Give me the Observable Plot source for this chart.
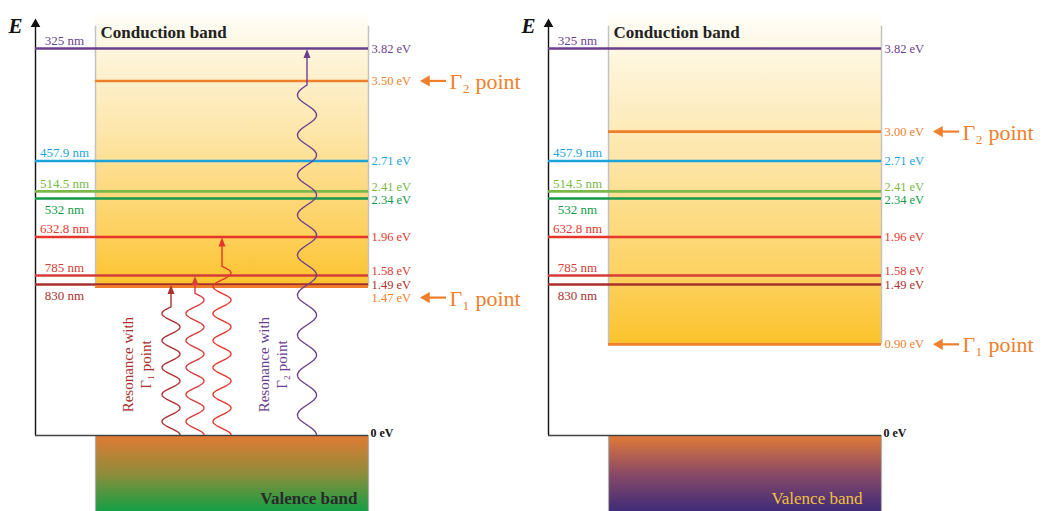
<!DOCTYPE html>
<html><head><meta charset="utf-8">
<script src="https://cdn.jsdelivr.net/npm/d3@7"></script>
<script src="https://cdn.jsdelivr.net/npm/@observablehq/plot@0.6"></script>
<style>body{margin:0;background:#fff}#chart{width:1046px;height:511px}</style>
</head><body><div id="chart"></div>
<script>
// ---------- data ----------
const laserLabels   = ["325 nm", "457.9 nm", "514.5 nm", "532 nm", "632.8 nm", "785 nm", "830 nm"];
const laserEnergies = [3.82, 2.71, 2.41, 2.34, 1.96, 1.58, 1.49];
const energyLabels  = ["3.82 eV", "2.71 eV", "2.41 eV", "2.34 eV", "1.96 eV", "1.58 eV", "1.49 eV"];
const laserColors   = ["#6b3f8e", "#1ca5dc", "#7ab84a", "#15994a", "#e6362b", "#d63c39", "#a9302d"];
const panels        = ["left", "right"];
const gamma2Energies = [3.50, 3.00];
const gamma2Labels   = ["3.50 eV", "3.00 eV"];
const gamma1Energies = [1.47, 0.90];
const gamma1Labels   = ["1.47 eV", "0.90 eV"];
const gammaNames     = ["Γ₁ point", "Γ₂ point"];
const gammaColor     = "#f07f2c";
const resonanceLasers = ["830 nm", "785 nm", "632.8 nm", "325 nm"]; // left panel only
const resonanceTexts  = ["Resonance with\nΓ₁ point", "Resonance with\nΓ₂ point"];
const resonanceTextColors = ["#a9302d", "#6b3f8e"];
const valenceStops  = [["#e27a33", "#8f8c3a", "#10a045"], ["#e27a36", "#8a4a66", "#3d2a78"]];
const valenceTextColors = ["#2a2a2a", "#f0c040"];
const valenceWeights = ["bold", "normal"];

// ---------- layout (pixels inside each panel) ----------
const W = 1046, H = 511;
const OFF = [0, 513];
const X = {axis: 35, boxL: 95, boxR: 368, nm: 64, eV: 371, tip: 421, tail: 446, gText: 449, E: 8, cb: 100,
           vbEnd: [357, 349], waves: [171, 195, 222, 307], wavePeriod: [27, 27, 27, 40], waveAmp: [9, 9, 9, 9.5],
           resText: [136, 272]};
const E_CB_TOP = 4.16, E_AXIS_TOP = 4.1, E_VB_BOTTOM = -0.76;
const nmDy = {"532 nm": 11, "830 nm": 11};
const evDy = {"2.41 eV": -4, "2.34 eV": 2, "1.58 eV": -4, "1.49 eV": 0};
const gammaDy = [[0, 11], [0, 0]]; // [panel][Γ2, Γ1]
const FONT = "Liberation Serif, DejaVu Serif, serif";
const LABEL_SIZE = 12.5;

// ---------- derived tables ----------
const laserRows = panels.flatMap((p, pi) => laserLabels.map((lab, i) => ({pi, lab, ev: energyLabels[i], e: laserEnergies[i], c: laserColors[i]})));
const gammaRows = panels.flatMap((p, pi) => [
  {pi, k: 0, e: gamma2Energies[pi], lab: gamma2Labels[pi], name: gammaNames[1]},
  {pi, k: 1, e: gamma1Energies[pi], lab: gamma1Labels[pi], name: gammaNames[0]}
]);
const waveRows = resonanceLasers.map((lab, i) => {
  const j = laserLabels.indexOf(lab);
  return {x: OFF[0] + X.waves[i], e: laserEnergies[j], c: laserColors[j], P: X.wavePeriod[i], A: X.waveAmp[i]};
});

const defsMark = () => {
  const defs = d3.create("svg:defs");
  const cb = defs.append("linearGradient").attr("id", "cbGrad").attr("x1", 0).attr("y1", 0).attr("x2", 0).attr("y2", 1);
  [[0, "#fffefa"], [0.12, "#fef6e0"], [0.45, "#fde5a6"], [0.78, "#fdd263"], [1, "#fcc32c"]]
    .forEach(([o, c]) => cb.append("stop").attr("offset", o).attr("stop-color", c));
  valenceStops.forEach((st, pi) => {
    const g = defs.append("linearGradient").attr("id", "vbGrad" + pi).attr("x1", 0).attr("y1", 0).attr("x2", 0).attr("y2", 1);
    st.forEach((c, i) => g.append("stop").attr("offset", i / (st.length - 1)).attr("stop-color", c));
  });
  return defs.node();
};

const wavyArrows = (index, {x, y}) => {
  const g = d3.create("svg:g").attr("fill", "none");
  for (const r of waveRows) {
    const cx = x(r.x), y0 = y(0), yt = y(r.e);
    const P = r.P, A = r.A, minStraight = 18;
    const L = y0 - yt - minStraight;
    const k = Math.floor((L / (P / 4) - 1) / 2);
    const Lw = (2 * k + 1) * P / 4;
    const pts = [];
    for (let t = 0; t <= Lw; t += 0.5) pts.push([cx + A * Math.cos(2 * Math.PI * t / P), y0 - t]);
    pts.push([cx, y0 - Lw], [cx, yt + 7]);
    g.append("path").attr("d", d3.line()(pts)).attr("stroke", r.c).attr("stroke-width", 1.4);
    g.append("path").attr("d", `M${cx},${yt + 1}L${cx - 3.5},${yt + 10}L${cx + 3.5},${yt + 10}Z`).attr("fill", r.c);
  }
  return g.node();
};

const marks = [defsMark];
panels.forEach((p, pi) => {
  const o = OFF[pi];
  // bands
  marks.push(Plot.rect([p], {x1: o + X.boxL, x2: o + X.boxR, y1: gamma1Energies[pi], y2: E_CB_TOP, fill: "url(#cbGrad)"}));
  marks.push(Plot.rect([p], {x1: o + X.boxL, x2: o + X.boxR, y1: E_VB_BOTTOM, y2: 0, fill: `url(#vbGrad${pi})`}));
  marks.push(Plot.ruleX([o + X.boxL, o + X.boxR], {y1: gamma1Energies[pi], y2: E_CB_TOP - 0.12, stroke: "#c2c2c2", strokeWidth: 1.5}));
  marks.push(Plot.ruleX([o + X.boxL, o + X.boxR], {y1: E_VB_BOTTOM, y2: 0, stroke: "#b0b0b0", strokeWidth: 1.2}));
  // axes
  marks.push(Plot.ruleX([o + X.axis], {y1: 0, y2: E_AXIS_TOP - 0.06, stroke: "#111", strokeWidth: 1.4}));
  marks.push(Plot.dot([p], {x: o + X.axis, y: E_AXIS_TOP, symbol: "triangle", r: 3.6, fill: "#111", dy: 4}));
  marks.push(Plot.ruleY([0], {x1: o + X.axis, x2: o + X.boxR, stroke: "#444", strokeWidth: 1.6}));
  marks.push(Plot.text([p], {x: o + X.E, y: 4.04, text: () => "E", textAnchor: "start", fontFamily: FONT, fontSize: 21, fontWeight: "bold", fontStyle: "italic", fill: "#111"}));
  marks.push(Plot.text([p], {x: o + X.boxR + 2, y: 0, text: () => "0 eV", textAnchor: "start", fontFamily: FONT, fontSize: 12, fontWeight: "bold", fill: "#111", dy: -2}));
  marks.push(Plot.text([p], {x: o + X.cb, y: 3.98, text: () => "Conduction band", textAnchor: "start", fontFamily: FONT, fontSize: 17, fontWeight: "bold", fill: "#222"}));
  marks.push(Plot.text([p], {x: o + X.vbEnd[pi], y: -0.62, text: () => "Valence band", textAnchor: "end", fontFamily: FONT, fontSize: 17, fontWeight: valenceWeights[pi], fill: valenceTextColors[pi]}));
});

// laser lines and labels
marks.push(Plot.ruleY(laserRows, {y: "e", x1: d => OFF[d.pi] + X.axis, x2: d => OFF[d.pi] + X.boxR, stroke: "c", strokeWidth: 2.6}));
laserRows.forEach(d => {
  marks.push(Plot.text([d], {x: OFF[d.pi] + X.nm, y: "e", text: "lab", fill: "c", fontFamily: FONT, fontSize: 13, textAnchor: "middle", dy: nmDy[d.lab] ?? -8}));
  marks.push(Plot.text([d], {x: OFF[d.pi] + X.eV, y: "e", text: "ev", fill: "c", fontFamily: FONT, fontSize: LABEL_SIZE, textAnchor: "start", dy: evDy[d.ev] ?? 0}));
});

// Γ points
marks.push(Plot.ruleY(gammaRows, {y: "e", x1: d => OFF[d.pi] + X.boxL, x2: d => OFF[d.pi] + X.boxR, stroke: gammaColor, strokeWidth: 2.6}));
gammaRows.forEach(d => {
  const dy = gammaDy[d.pi][d.k], o = OFF[d.pi];
  marks.push(Plot.text([d], {x: o + X.eV, y: "e", text: "lab", fill: gammaColor, fontFamily: FONT, fontSize: LABEL_SIZE, textAnchor: "start", dy}));
  marks.push(Plot.ruleY([d], {y: "e", x1: o + X.tip + 6, x2: o + X.tail, stroke: gammaColor, strokeWidth: 2.2, dy}));
  marks.push(Plot.dot([d], {x: o + X.tip + 5, y: "e", symbol: "triangle", rotate: -90, r: 4.2, fill: gammaColor, dy}));
  marks.push(Plot.text([d], {x: o + X.gText, y: "e", text: "name", fill: gammaColor, fontFamily: FONT, fontSize: 22, textAnchor: "start", dy: dy + 1}));
});

// resonance arrows & texts (left panel)
marks.push(wavyArrows);
resonanceTexts.forEach((t, i) => {
  marks.push(Plot.text([t], {x: OFF[0] + X.resText[i], y: 0.70, text: d => d, rotate: -90, fill: resonanceTextColors[i], fontFamily: FONT, fontSize: 15, lineHeight: 1.2, textAnchor: "middle"}));
});

const chart = Plot.plot({
  width: W, height: H,
  margin: 0,
  x: {domain: [0, W], range: [0, W], axis: null},
  y: {domain: [-0.75, 4.294], axis: null},
  color: {type: "identity"},
  style: {background: "#fff", overflow: "visible"},
  marks
});
document.getElementById("chart").appendChild(chart);
</script>
</body></html>
